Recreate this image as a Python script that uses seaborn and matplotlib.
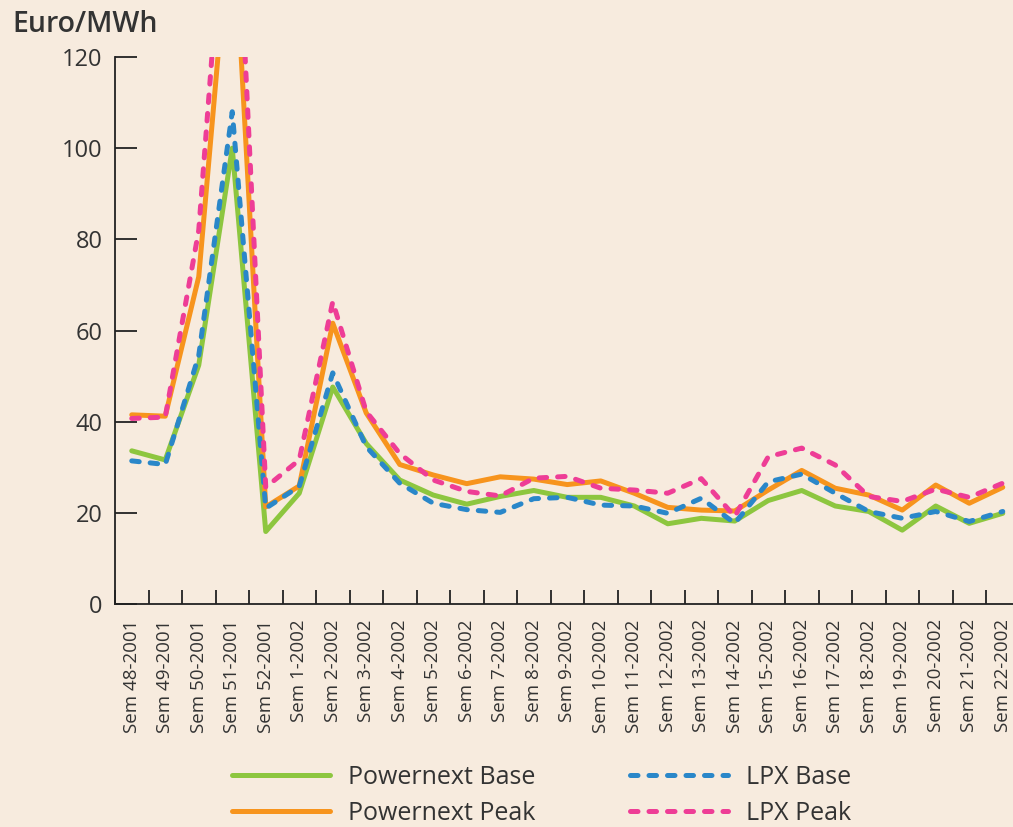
import numpy as np
import pandas as pd
import matplotlib
matplotlib.use("Agg")
import matplotlib.pyplot as plt
import seaborn as sns

# semaines
weeks = ["Sem 48-2001", "Sem 49-2001", "Sem 50-2001", "Sem 51-2001", "Sem 52-2001",
         "Sem 1-2002", "Sem 2-2002", "Sem 3-2002", "Sem 4-2002", "Sem 5-2002",
         "Sem 6-2002", "Sem 7-2002", "Sem 8-2002", "Sem 9-2002", "Sem 10-2002",
         "Sem 11-2002", "Sem 12-2002", "Sem 13-2002", "Sem 14-2002", "Sem 15-2002",
         "Sem 16-2002", "Sem 17-2002", "Sem 18-2002", "Sem 19-2002", "Sem 20-2002",
         "Sem 21-2002", "Sem 22-2002"]

# prix Euro/MWh
powernext_base = [33.6, 31.6, 52.4, 100, 15.9, 24.3, 47.6, 35.2, 27.2, 23.9, 21.9, 23.6, 24.9, 23.4,
                  23.4, 21.5, 17.6, 18.8, 18.2, 22.7, 24.9, 21.5, 20.3, 16.2, 21.5, 17.7, 19.9]
powernext_peak = [41.5, 41.2, 71.8, 156, 21.3, 25.9, 61.6, 41.9, 30.6, 28.3, 26.4, 27.9, 27.4, 26.2,
                  27.0, 24.3, 21.2, 20.6, 20.4, 25.0, 29.3, 25.4, 23.9, 20.6, 26.1, 22.1, 25.6]
lpx_base = [31.4, 30.6, 54.5, 108, 21.0, 25.8, 50.7, 34.5, 26.5, 22.1, 20.7, 20.1, 23.1, 23.4,
            21.7, 21.5, 19.9, 23.2, 17.7, 26.8, 28.5, 24.3, 20.3, 18.8, 20.3, 18.1, 20.3]
lpx_peak = [40.7, 41.0, 82, 179, 25.6, 31.6, 66.3, 42.2, 33.0, 27.2, 24.7, 23.7, 27.6, 28.0,
            25.4, 25.0, 24.3, 27.5, 19.2, 32.3, 34.2, 30.5, 23.6, 22.5, 25.2, 23.4, 26.5]

bg = "#F7EBDE"
txt = "#333333"

sns.set_style("ticks")
plt.rcParams['font.family'] = ['Open Sans', 'DejaVu Sans']

pos = np.arange(len(weeks))
df = pd.DataFrame({"pos": pos, "Powernext Base": powernext_base, "Powernext Peak": powernext_peak,
                   "LPX Base": lpx_base, "LPX Peak": lpx_peak})

fig = plt.figure(figsize=(10.13, 8.27), dpi=100, facecolor=bg)
ax = fig.add_axes([115 / 1013, 223 / 827, 904.5 / 1013, 547 / 827])
ax.set_facecolor(bg)

lw = 3.6
dash = (0, (1.5, 2.2))
series = [("Powernext Base", "#8DC63F", "-"),
          ("Powernext Peak", "#F7941D", "-"),
          ("LPX Base", "#2A87C9", dash),
          ("LPX Peak", "#EE3D96", dash)]
for name, col, ls in series:
    sns.lineplot(data=df, x="pos", y=name, ax=ax, color=col, lw=lw, linestyle=ls,
                 dash_capstyle="round", solid_capstyle="round", solid_joinstyle="round",
                 dash_joinstyle="round", label=name)

ax.set_xlim(-0.5, len(weeks) - 0.5)
ax.set_ylim(0, 120)
ax.set_yticks([0, 20, 40, 60, 80, 100, 120])
ax.set_xticks(pos)
ax.set_xticklabels(weeks, rotation=90, fontsize=13.5, color=txt)
ax.set_xticks(np.arange(-0.5, len(weeks), 1), minor=True)
ax.tick_params(axis="x", which="major", length=0, pad=11)
ax.tick_params(axis="x", which="minor", direction="in", length=10, width=1.3, color="#222222")
ax.tick_params(axis="y", direction="in", length=16, width=1.3, color="#222222", labelsize=17,
               labelcolor=txt, pad=9)
ax.set_xlabel("")
ax.set_ylabel("")
sns.despine(ax=ax)
for s in ["left", "bottom"]:
    ax.spines[s].set_linewidth(1.3)
    ax.spines[s].set_color("#222222")

fig.text(12 / 1013, 1 - 24 / 827, "Euro/MWh", fontsize=20.5, fontweight="semibold", color=txt,
         va="center", ha="left")

leg = ax.legend(loc="center", bbox_to_anchor=(0.5345, 0.038), bbox_transform=fig.transFigure,
                ncol=2, frameon=False, fontsize=18, handlelength=3.9, handletextpad=0.72,
                columnspacing=3.8, labelspacing=0.45, borderpad=0)
for t in leg.get_texts():
    t.set_color(txt)

fig.savefig("out.png", dpi=100, facecolor=bg)
